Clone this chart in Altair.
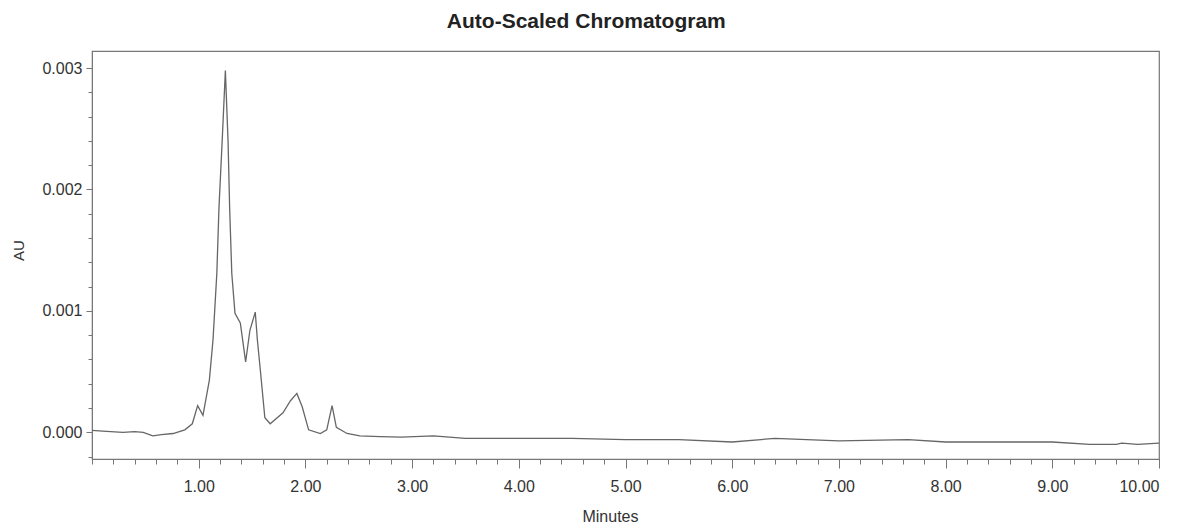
import altair as alt
import pandas as pd

minutes = [0.00, 0.10, 0.29, 0.40, 0.48, 0.57, 0.65, 0.76, 0.87, 0.94,
           0.99, 1.04, 1.10, 1.134, 1.17, 1.19, 1.22, 1.25, 1.275, 1.29,
           1.31, 1.34, 1.39, 1.44, 1.48, 1.53, 1.55, 1.58, 1.62, 1.67,
           1.79, 1.86, 1.92, 1.97, 2.03, 2.14, 2.20, 2.25, 2.29, 2.39,
           2.51, 2.70, 2.90, 3.20, 3.50, 4.00, 4.50, 5.00, 5.50, 6.00,
           6.40, 7.00, 7.65, 8.00, 8.50, 9.00, 9.35, 9.60, 9.65, 9.80,
           10.00]
au_milli = [0.015, 0.010, 0.000, 0.005, 0.000, -0.030, -0.020, -0.010, 0.020, 0.070,
            0.220, 0.140, 0.430, 0.760, 1.310, 1.850, 2.400, 2.980, 2.400, 1.850,
            1.310, 0.980, 0.900, 0.580, 0.840, 0.990, 0.760, 0.490, 0.120, 0.070,
            0.160, 0.260, 0.320, 0.210, 0.020, -0.010, 0.020, 0.220, 0.040, -0.010,
            -0.030, -0.035, -0.040, -0.030, -0.050, -0.050, -0.050, -0.060, -0.060, -0.080,
            -0.050, -0.070, -0.060, -0.080, -0.080, -0.080, -0.100, -0.100, -0.090, -0.100,
            -0.090]

x_major = [1, 2, 3, 4, 5, 6, 7, 8, 9, 10]
x_minor = [round(i * 0.2, 1) for i in range(0, 51)]
y_major = [0.0, 0.001, 0.002, 0.003]
y_minor = [round(-0.0002 + i * 0.0002, 4) for i in range(17)]

df = pd.DataFrame({"Minutes": minutes, "AU": [v / 1000 for v in au_milli]})

FONT = "Liberation Sans"
TXT = "#333333"
AX = "#777777"

xscale = alt.Scale(domain=[0, 10], nice=False, zero=False)
yscale = alt.Scale(domain=[-0.00022, 0.00314], nice=False, zero=False)

line = alt.Chart(df).mark_line(color="#666666", strokeWidth=1.3).encode(
    x=alt.X("Minutes:Q", scale=xscale,
            axis=alt.Axis(values=x_major, format=".2f", tickSize=9, grid=False,
                          title="Minutes", titleFont=FONT, titleFontSize=16,
                          titleFontWeight="normal", titleColor=TXT,
                          titleX=518, titleY=57, titleBaseline="middle",
                          labelFont=FONT, labelFontSize=16, labelColor=TXT,
                          labelPadding=10, domainColor=AX, tickColor=AX,
                          orient="bottom")),
    y=alt.Y("AU:Q", scale=yscale,
            axis=alt.Axis(values=y_major, format=".3f", tickSize=6, grid=False,
                          title="AU", titleFont=FONT, titleFontSize=15,
                          titleFontWeight="normal", titleColor=TXT,
                          titleX=-74, titleY=199, titleBaseline="middle",
                          labelFont=FONT, labelFontSize=16, labelColor=TXT,
                          labelPadding=4, domainColor=AX, tickColor=AX,
                          orient="left")),
)

minor = alt.Chart(df).mark_line(opacity=0).encode(
    x=alt.X("Minutes:Q", scale=xscale,
            axis=alt.Axis(values=x_minor, labels=False, tickSize=5, grid=False,
                          title="", domain=False, tickColor=AX, orient="bottom")),
    y=alt.Y("AU:Q", scale=yscale,
            axis=alt.Axis(values=y_minor, labels=False, tickSize=4, grid=False,
                          title="", domain=False, tickColor=AX, orient="left")),
)

chart = alt.layer(minor, line).resolve_axis(
    x="independent", y="independent"
).properties(
    width=1067,
    height=408,
    padding={"left": 84, "top": 43, "right": 22, "bottom": 65},
    autosize=alt.AutoSizeParams(type="none"),
    title=alt.TitleParams("Auto-Scaled Chromatogram", font=FONT, fontSize=21,
                          fontWeight="bold", color="#222222", frame="bounds",
                          anchor="middle", offset=19),
).configure_view(stroke=AX, strokeWidth=1.2)

chart.save("out.html", embed_options={"renderer": "svg", "actions": False})
